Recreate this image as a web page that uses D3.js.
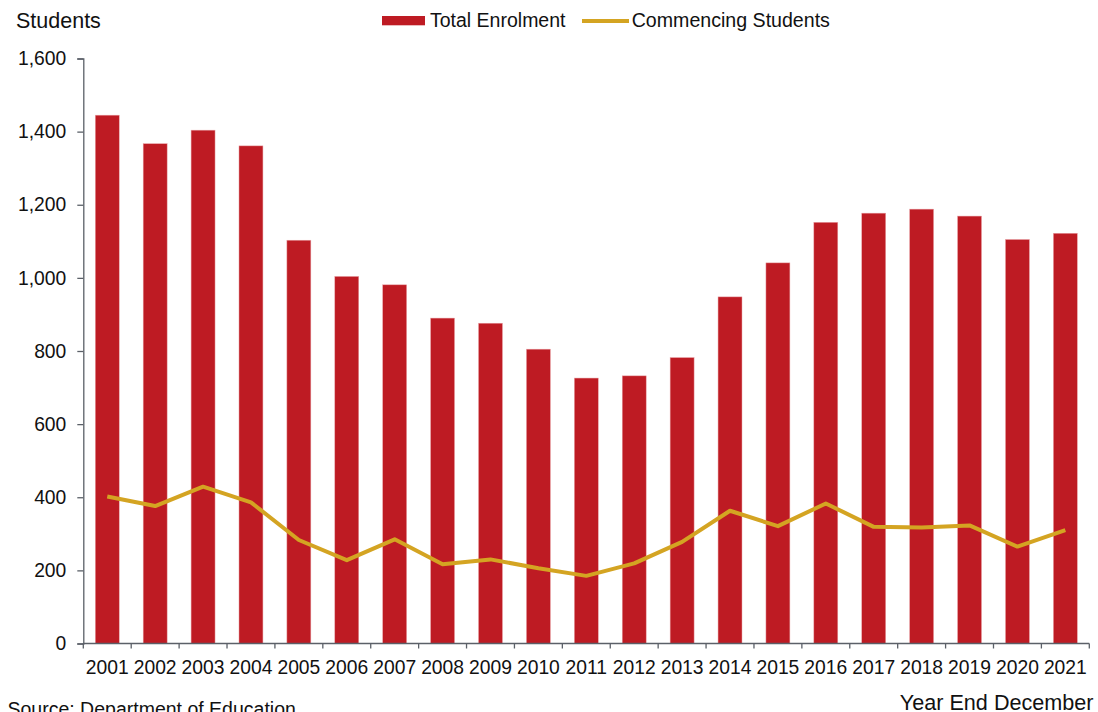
<!DOCTYPE html>
<html>
<head>
<meta charset="utf-8">
<script src="https://cdn.jsdelivr.net/npm/d3@7"></script>
<style>
  html, body { margin: 0; padding: 0; background: #fff; }
  svg { display: block; font-family: Arial, "Liberation Sans", sans-serif; }
</style>
</head>
<body>
<svg id="chart" width="1098" height="712"></svg>
<script>
// Years shown on the category axis
const years = ["2001","2002","2003","2004","2005","2006","2007","2008","2009","2010",
               "2011","2012","2013","2014","2015","2016","2017","2018","2019","2020","2021"];
// Total enrolment (bars)
const totalEnrolment = [1445,1367,1404,1361,1103,1004,981,890,876,805,
                        726,732,782,948,1041,1152,1177,1188,1169,1105,1122];
// Commencing students (line)
const commencing = [402,376,429,386,283,228,285,217,230,206,
                    185,219,278,363,321,383,319,317,323,265,310];
const yTicks = [0,200,400,600,800,1000,1200,1400,1600];

const svg = d3.select("#chart");
const plotLeft = 83.3, plotRight = 1089.3, plotTop = 58.5, plotBottom = 643.5;
const axisColor = "#5b6068";
const barColor = "#be1b23";
const lineColor = "#d4a422";

const x = d3.scaleBand().domain(years).range([plotLeft, plotRight]).paddingInner(0.5).paddingOuter(0.25);
const y = d3.scaleLinear().domain([0, 1600]).range([plotBottom, plotTop]);

// Bars
svg.append("g").selectAll("rect").data(years).join("rect")
  .attr("x", d => x(d))
  .attr("width", x.bandwidth())
  .attr("y", (d, i) => y(totalEnrolment[i]))
  .attr("height", (d, i) => y(0) - y(totalEnrolment[i]))
  .attr("fill", barColor)
  .attr("stroke", "#e9a3a7")
  .attr("stroke-width", 0.5);

// Commencing line
const line = d3.line()
  .x((d, i) => x(years[i]) + x.bandwidth() / 2)
  .y(d => y(d));
svg.append("path").datum(commencing)
  .attr("d", line)
  .attr("fill", "none")
  .attr("stroke", lineColor)
  .attr("stroke-width", 4)
  .attr("stroke-linejoin", "round");

// Y axis
const yAxis = svg.append("g").attr("transform", `translate(${plotLeft},0)`)
  .call(d3.axisLeft(y).tickValues(yTicks).tickSize(6).tickPadding(11).tickFormat(d3.format(",")));
yAxis.select(".domain").attr("stroke", axisColor).attr("stroke-width", 1.3);
yAxis.selectAll(".tick line").attr("stroke", axisColor).attr("stroke-width", 1.3);
yAxis.selectAll(".tick text").attr("fill", "#111").style("font-size", "19.3px")
  .style("font-family", "Arial, 'Liberation Sans', sans-serif");

// X axis: ticks at category boundaries
const xAxisG = svg.append("g").attr("transform", `translate(0,${plotBottom})`);
xAxisG.append("line").attr("x1", plotLeft).attr("x2", plotRight).attr("y1", 0).attr("y2", 0)
  .attr("stroke", axisColor).attr("stroke-width", 1.3);
const step = x.step();
const boundaries = d3.range(years.length + 1).map(i => plotLeft + i * step);
xAxisG.selectAll("line.tk").data(boundaries).join("line").attr("class", "tk")
  .attr("x1", d => d).attr("x2", d => d).attr("y1", 0).attr("y2", 5)
  .attr("stroke", axisColor).attr("stroke-width", 1.3);
xAxisG.selectAll("text").data(years).join("text")
  .attr("x", d => x(d) + x.bandwidth() / 2)
  .attr("y", 30.5)
  .attr("text-anchor", "middle")
  .attr("fill", "#111")
  .style("font-size", "19.3px")
  .text(d => d);

// Titles
svg.append("text").attr("x", 16).attr("y", 27.5).attr("fill", "#111")
  .style("font-size", "21.5px").text("Students");
svg.append("text").attr("x", 1093.5).attr("y", 709.5).attr("text-anchor", "end").attr("fill", "#111")
  .style("font-size", "21.6px").text("Year End December");
svg.append("text").attr("x", 7.5).attr("y", 716).attr("fill", "#111")
  .style("font-size", "19.5px").text("Source: Department of Education");

// Legend
const legend = svg.append("g");
legend.append("rect").attr("x", 382).attr("y", 16).attr("width", 43).attr("height", 9.3).attr("fill", barColor);
legend.append("text").attr("x", 430).attr("y", 27.3).attr("fill", "#111")
  .style("font-size", "19.5px").text("Total Enrolment");
legend.append("line").attr("x1", 582).attr("x2", 629).attr("y1", 21).attr("y2", 21)
  .attr("stroke", lineColor).attr("stroke-width", 4);
legend.append("text").attr("x", 631.7).attr("y", 27.3).attr("fill", "#111")
  .style("font-size", "19.6px").text("Commencing Students");
</script>
</body>
</html>
